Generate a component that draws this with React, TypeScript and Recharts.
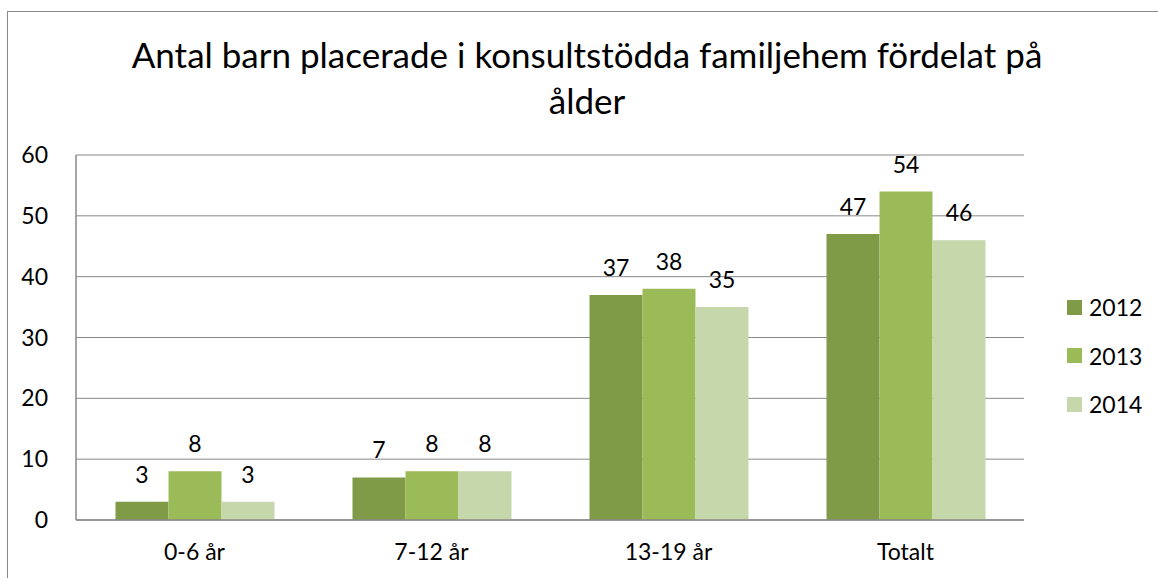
import React from 'react';
import { BarChart, Bar, XAxis, YAxis, CartesianGrid, LabelList } from 'recharts';

const categories = ['0-6 år', '7-12 år', '13-19 år', 'Totalt'];
const years = ['2012', '2013', '2014'];
const values2012 = [3, 7, 37, 47];
const values2013 = [8, 8, 38, 54];
const values2014 = [3, 8, 35, 46];
const yTicks = [0, 10, 20, 30, 40, 50, 60];
const colors = ['#7f9b48', '#9bbb59', '#c6d7ac'];

const titleLines = ['Antal barn placerade i konsultstödda familjehem fördelat på', 'ålder'];

const data = categories.map((c, i) => ({
  name: c,
  '2012': values2012[i],
  '2013': values2013[i],
  '2014': values2014[i],
}));

const font = 'Lato, "Open Sans", sans-serif';

export default function App() {
  return (
    <div style={{ position: 'absolute', left: 0, top: 0, width: 1158, height: 578, background: '#fff', overflow: 'hidden', fontFamily: font }}>
      {/* outer chart frame, only left and top edges are in view */}
      <div style={{ position: 'absolute', left: 7, top: 11, width: 1200, height: 620, borderLeft: '1.5px solid #8a8a8a', borderTop: '1.5px solid #8a8a8a' }} />
      <div style={{ position: 'absolute', left: 0, top: 31, width: 1174, textAlign: 'center', fontSize: 35, lineHeight: '46px', color: '#000' }}>
        {titleLines.map(l => <div key={l}>{l}</div>)}
      </div>
      <div style={{ position: 'absolute', left: 0, top: 0 }}>
        <BarChart
          width={1158}
          height={578}
          data={data}
          margin={{ top: 155, right: 134, bottom: 18, left: 6 }}
          barCategoryGap={39.5}
          barGap={0}
        >
          <CartesianGrid horizontal vertical={false} stroke="#888" strokeWidth={1} />
          <XAxis
            dataKey="name"
            height={40}
            axisLine={{ stroke: '#888', strokeWidth: 1.5 }}
            tickLine={false}
            tickMargin={18}
            tick={{ fill: '#000', fontSize: 23, fontFamily: font }}
          />
          <YAxis
            width={70}
            domain={[0, 60]}
            ticks={yTicks}
            interval={0}
            axisLine={{ stroke: '#888', strokeWidth: 1.5 }}
            tickLine={false}
            tickMargin={22}
            tick={{ fill: '#000', fontSize: 23, fontFamily: font }}
          />
          {years.map((y, i) => (
            <Bar key={y} dataKey={y} fill={colors[i]} isAnimationActive={false}>
              <LabelList dataKey={y} position="top" offset={19} fill="#000" fontSize={23} fontFamily={font} />
            </Bar>
          ))}
        </BarChart>
      </div>
      <div style={{ position: 'absolute', left: 1067, top: 283 }}>
        {years.map((y, i) => (
          <div key={y} style={{ display: 'flex', alignItems: 'center', height: 48.5, fontSize: 23, color: '#000' }}>
            <span style={{ display: 'inline-block', width: 15, height: 15, background: colors[i], marginRight: 7 }} />
            <span>{y}</span>
          </div>
        ))}
      </div>
    </div>
  );
}
